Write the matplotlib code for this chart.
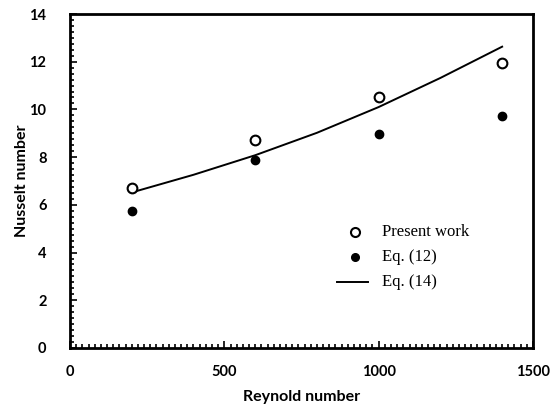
import matplotlib.pyplot as plt
from matplotlib.ticker import MultipleLocator

# Reynolds numbers and Nusselt numbers
re_points = [200, 600, 1000, 1400]
nu_present = [6.70, 8.72, 10.50, 11.95]
nu_eq12 = [5.75, 7.90, 8.97, 9.74]

# Eq. (14) correlation curve
re_eq14 = [200, 400, 600, 800, 1000, 1200, 1400]
nu_eq14 = [6.52, 7.26, 8.08, 9.02, 10.10, 11.32, 12.63]

legend_labels = ['Present work', 'Eq. (12)', 'Eq. (14)']

fig = plt.figure(figsize=(5.59, 4.07), dpi=100)
ax = fig.add_axes([0.1252, 0.145, 0.8283, 0.8206])

ax.plot(re_eq14, nu_eq14, color='black', lw=1.4)
ax.plot(re_points, nu_present, 'o', ms=7, mfc='white', mec='black', mew=1.5)
ax.plot(re_points, nu_eq12, 'o', ms=6, mfc='black', mec='black')

ax.set_xlim(0, 1500)
ax.set_ylim(0, 14)
ax.xaxis.set_major_locator(MultipleLocator(500))
ax.xaxis.set_minor_locator(MultipleLocator(20))
ax.yaxis.set_major_locator(MultipleLocator(2))
ax.yaxis.set_minor_locator(MultipleLocator(0.25))
ax.tick_params(which='both', direction='in', width=1.2, top=False, right=False)
ax.tick_params(which='major', length=5, pad=12, labelsize=10.5)
ax.tick_params(which='minor', length=3)
ax.tick_params(axis='y', which='major', pad=17)
for lbl in ax.get_xticklabels() + ax.get_yticklabels():
    lbl.set_fontfamily('Lato')
    lbl.set_fontweight('bold')
for sp in ax.spines.values():
    sp.set_linewidth(2)

ax.set_xlabel('Reynold number', fontsize=11.5, fontweight='bold', family='Lato', labelpad=8)
ax.set_ylabel('Nusselt number', fontsize=11.5, fontweight='bold', family='Lato', labelpad=0)

# legend drawn by hand, no frame
tr = ax.transAxes
ax.plot([0.6156], [0.348], 'o', ms=6.5, mfc='white', mec='black', mew=1.5, transform=tr, clip_on=False)
ax.plot([0.6156], [0.2725], 'o', ms=5.5, mfc='black', mec='black', transform=tr, clip_on=False)
ax.plot([0.5767, 0.6436], [0.1985, 0.1985], color='black', lw=1.4, transform=tr, clip_on=False)
for yy, lab in zip([0.348, 0.2725, 0.1985], legend_labels):
    ax.text(0.673, yy, lab, transform=tr, family='Liberation Serif', fontsize=12, va='center', ha='left')

fig.savefig('out.png', dpi=100)
